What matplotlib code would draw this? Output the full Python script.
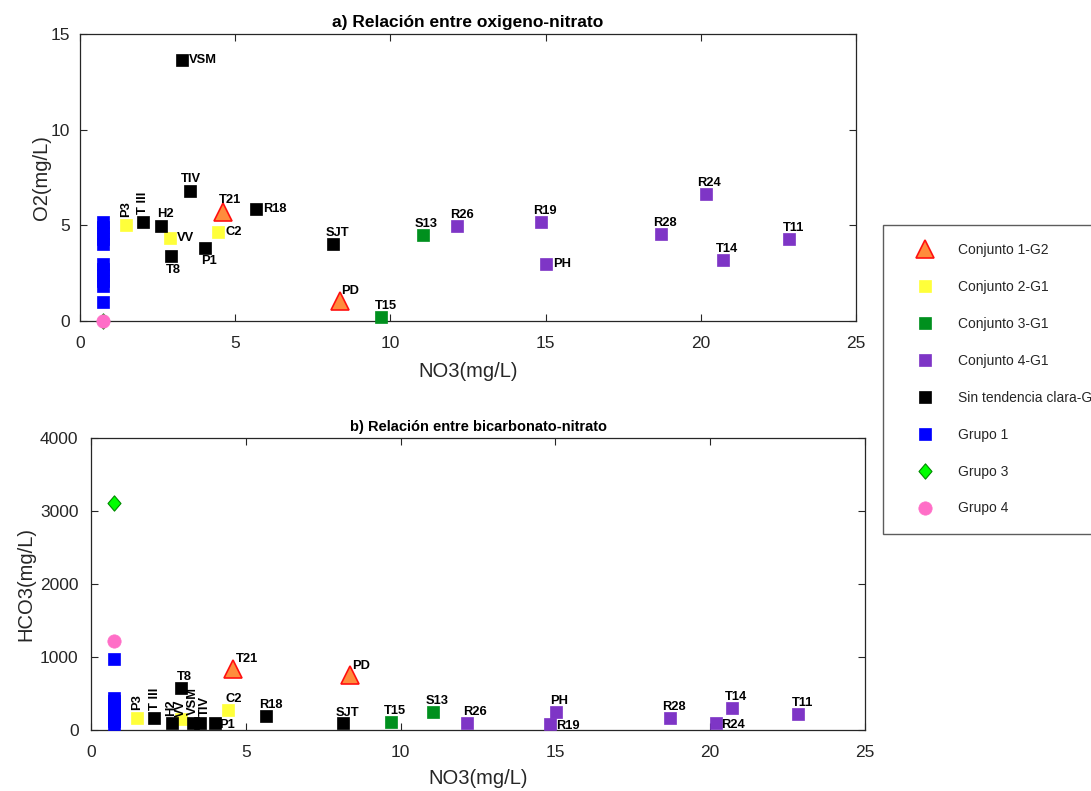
import matplotlib
matplotlib.use("Agg")
import matplotlib.pyplot as plt
from matplotlib.lines import Line2D
from matplotlib.path import Path

plt.rcParams['font.family'] = ['Liberation Sans', 'DejaVu Sans']

# ---------------------------------------------------------------------------
# Data: NO3, O2 and HCO3 (mg/L) per sample, grouped by set
# ---------------------------------------------------------------------------
conj1_names = ["T21", "PD"]
conj1_no3 = [4.60, 8.38]
conj1_o2 = [5.68, 1.05]
conj1_hco3 = [831, 750]

conj2_names = ["P3", "VV", "C2"]
conj2_no3 = [1.49, 2.90, 4.43]
conj2_o2 = [5.00, 4.36, 4.66]
conj2_hco3 = [160, 150, 274]

conj3_names = ["T15", "S13"]
conj3_no3 = [9.70, 11.05]
conj3_o2 = [0.22, 4.49]
conj3_hco3 = [104, 240]

conj4_names = ["R26", "R19", "PH", "R28", "R24", "T14", "T11"]
conj4_no3 = [12.14, 14.84, 15.01, 18.71, 20.18, 20.72, 22.85]
conj4_o2 = [4.97, 5.16, 2.98, 4.57, 6.63, 3.17, 4.28]
conj4_hco3 = [95, 86, 240, 158, 90, 299, 213]

sin_names = ["T III", "H2", "T8", "TIV", "P1", "R18", "VSM", "SJT"]
sin_no3 = [2.03, 2.62, 2.92, 3.53, 4.02, 5.66, 3.28, 8.15]
sin_o2 = [5.18, 4.96, 3.42, 6.80, 3.82, 5.83, 13.64, 4.00]
sin_hco3 = [165, 92, 571, 92, 92, 192, 92, 93]

grupo1_no3 = [0.75, 0.75, 0.75, 0.75, 0.75, 0.75, 0.75, 0.75, 0.75, 0.75, 0.75]
grupo1_o2 = [5.20, 4.90, 4.60, 4.30, 4.00, 3.00, 2.70, 2.40, 2.10, 1.85, 1.00]
grupo1_hco3 = [968, 440, 400, 360, 320, 280, 240, 200, 160, 120, 85]

grupo3_no3 = [0.75]
grupo3_o2 = [0.0]
grupo3_hco3 = [3114]

grupo4_no3 = [0.75]
grupo4_o2 = [0.0]
grupo4_hco3 = [1224]

legend_labels = ["Conjunto 1-G2", "Conjunto 2-G1", "Conjunto 3-G1", "Conjunto 4-G1",
                 "Sin tendencia clara-G", "Grupo 1", "Grupo 3", "Grupo 4"]

# ---------------------------------------------------------------------------
# Marker styles
# ---------------------------------------------------------------------------
diamond = Path([(0, 1), (0.85, 0), (0, -1), (-0.85, 0), (0, 1)],
               [Path.MOVETO, Path.LINETO, Path.LINETO, Path.LINETO, Path.CLOSEPOLY])

sq = dict(marker='s', markersize=8.6, markeredgewidth=0.5)
styles = [
    dict(marker='^', markersize=12.5, markerfacecolor='#FF8C3C', markeredgecolor='#FF1010', markeredgewidth=1.2),
    dict(markerfacecolor='#FFFF3A', markeredgecolor='#FFFF3A', **sq),
    dict(markerfacecolor='#00901E', markeredgecolor='#00901E', **sq),
    dict(markerfacecolor='#7E35C6', markeredgecolor='#7E35C6', **sq),
    dict(markerfacecolor='#000000', markeredgecolor='#000000', **sq),
    dict(markerfacecolor='#0000FF', markeredgecolor='#0000FF', **sq),
    dict(marker=diamond, markersize=11, markerfacecolor='#00FF00', markeredgecolor='#008A00', markeredgewidth=0.8),
    dict(marker='o', markersize=9.6, markerfacecolor='#FF6EC7', markeredgecolor='#FF6EC7', markeredgewidth=0.5),
]

# Label placement (pixel offset dx, dy, ha, va, rotation) for each plot
top_pos = {
    "T21": (7, 9, 'center', 'baseline', 0), "PD": (1, 7, 'left', 'baseline', 0),
    "P3": (0, 8, 'center', 'bottom', 90), "VV": (7, 0, 'left', 'center', 0),
    "C2": (8, 0, 'left', 'center', 0),
    "T15": (5, 8, 'center', 'baseline', 0), "S13": (3, 8, 'center', 'baseline', 0),
    "R26": (5, 8, 'center', 'baseline', 0), "R19": (4, 8, 'center', 'baseline', 0),
    "PH": (7, 0, 'left', 'center', 0), "R28": (4, 8, 'center', 'baseline', 0),
    "R24": (3, 8, 'center', 'baseline', 0), "T14": (4, 8, 'center', 'baseline', 0),
    "T11": (4, 8, 'center', 'baseline', 0),
    "T III": (0, 8, 'center', 'bottom', 90), "H2": (4, 9, 'center', 'baseline', 0),
    "T8": (3, -8, 'center', 'top', 0), "TIV": (1, 9, 'center', 'baseline', 0),
    "P1": (4, -7, 'center', 'top', 0), "R18": (7, 0, 'left', 'center', 0),
    "VSM": (7, 0, 'left', 'center', 0), "SJT": (4, 8, 'center', 'baseline', 0),
}
bot_pos = {
    "T21": (2, 7, 'left', 'baseline', 0), "PD": (2, 6, 'left', 'baseline', 0),
    "P3": (0, 8, 'center', 'bottom', 90), "VV": (0, 2, 'center', 'bottom', 90),
    "C2": (6, 8, 'center', 'baseline', 0),
    "T15": (4, 8, 'center', 'baseline', 0), "S13": (4, 8, 'center', 'baseline', 0),
    "R26": (8, 8, 'center', 'baseline', 0), "R19": (6, -2, 'left', 'center', 0),
    "PH": (3, 8, 'center', 'baseline', 0), "R28": (4, 8, 'center', 'baseline', 0),
    "R24": (5, -2, 'left', 'center', 0), "T14": (4, 8, 'center', 'baseline', 0),
    "T11": (4, 8, 'center', 'baseline', 0),
    "T III": (1, 8, 'center', 'bottom', 90), "H2": (-1, 7, 'center', 'bottom', 90),
    "T8": (3, 8, 'center', 'baseline', 0), "TIV": (5, 7, 'center', 'bottom', 90),
    "P1": (4, -2, 'left', 'center', 0), "R18": (5, 8, 'center', 'baseline', 0),
    "VSM": (0, 8, 'center', 'bottom', 90), "SJT": (4, 7, 'center', 'baseline', 0),
}

AX_COLOR = '#262626'


def style_axes(ax, xpad, ypad):
    for s in ax.spines.values():
        s.set_color(AX_COLOR)
        s.set_linewidth(0.9)
    ax.tick_params(direction='in', length=5, width=0.8, top=True, right=True,
                   colors=AX_COLOR, labelsize=12.5)
    ax.tick_params(axis='x', pad=xpad)
    ax.tick_params(axis='y', pad=ypad)


def draw(ax, ykey, positions):
    groups = [
        (conj1_names, conj1_no3, conj1_o2, conj1_hco3),
        (conj2_names, conj2_no3, conj2_o2, conj2_hco3),
        (conj3_names, conj3_no3, conj3_o2, conj3_hco3),
        (conj4_names, conj4_no3, conj4_o2, conj4_hco3),
        (sin_names, sin_no3, sin_o2, sin_hco3),
        (None, grupo1_no3, grupo1_o2, grupo1_hco3),
        (None, grupo3_no3, grupo3_o2, grupo3_hco3),
        (None, grupo4_no3, grupo4_o2, grupo4_hco3),
    ]
    for (names, x, yo2, yhco3), st in zip(groups, styles):
        y = yo2 if ykey == 'o2' else yhco3
        ax.plot(x, y, linestyle='none', clip_on=False, zorder=3, **st)
        if names:
            for n, xi, yi in zip(names, x, y):
                dx, dy, ha, va, rot = positions[n]
                ax.annotate(n, (xi, yi), xytext=(dx, dy), textcoords='offset pixels',
                            ha=ha, va=va, rotation=rot, fontsize=9.3, fontweight='bold',
                            color='#000000', annotation_clip=False, zorder=4)


fig = plt.figure(figsize=(10.91, 7.91), dpi=100)

# a) oxygen vs nitrate
ax1 = fig.add_axes([80 / 1091, 1 - 321 / 791, 776 / 1091, 287 / 791])
draw(ax1, 'o2', top_pos)
ax1.set_xlim(0, 25)
ax1.set_ylim(0, 15)
ax1.set_xticks([0, 5, 10, 15, 20, 25])
ax1.set_yticks([0, 5, 10, 15])
style_axes(ax1, 11, 7)
ax1.set_xlabel("NO3(mg/L)", fontsize=14.5, color=AX_COLOR, labelpad=8)
ax1.set_ylabel("O2(mg/L)", fontsize=14.5, color=AX_COLOR, labelpad=0)
ax1.set_title("a) Relación entre oxigeno-nitrato", fontsize=12.5, fontweight='bold', pad=5)

# b) bicarbonate vs nitrate
ax2 = fig.add_axes([91 / 1091, 1 - 730 / 791, 774 / 1091, 292 / 791])
draw(ax2, 'hco3', bot_pos)
ax2.set_xlim(0, 25)
ax2.set_ylim(0, 4000)
ax2.set_xticks([0, 5, 10, 15, 20, 25])
ax2.set_yticks([0, 1000, 2000, 3000, 4000])
style_axes(ax2, 11, 9)
ax2.set_xlabel("NO3(mg/L)", fontsize=14.5, color=AX_COLOR, labelpad=6)
ax2.set_ylabel("HCO3(mg/L)", fontsize=14.5, color=AX_COLOR, labelpad=3)
ax2.set_title("b) Relación entre bicarbonato-nitrato", fontsize=10.5, fontweight='bold', pad=5)

# Shared legend on the right
handles = [Line2D([], [], linestyle='none', label=lab, **st) for lab, st in zip(legend_labels, styles)]
leg = fig.legend(handles=handles, loc='upper left',
                 bbox_to_anchor=(882.7 / 1091, 1 - 225 / 791), bbox_transform=fig.transFigure,
                 borderaxespad=0, fontsize=10, frameon=True, fancybox=False,
                 edgecolor='#333333', labelspacing=1.65, borderpad=1.3,
                 handlelength=3.5, handletextpad=0.6, labelcolor=AX_COLOR)
leg.get_frame().set_linewidth(1.0)

fig.savefig("out.png", dpi=100)
